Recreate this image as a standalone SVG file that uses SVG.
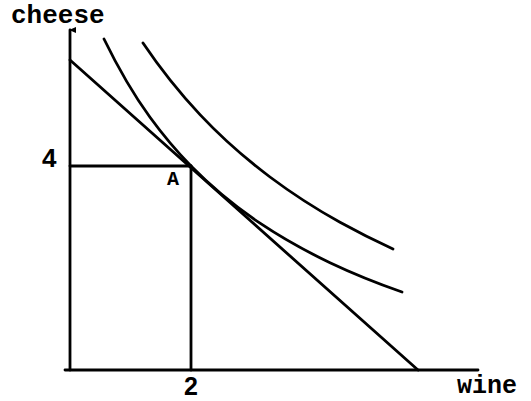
<svg xmlns="http://www.w3.org/2000/svg" width="531" height="401" viewBox="0 0 531 401">
<style>
.ln{fill:none;stroke:#000;stroke-width:2.8;stroke-linecap:round;stroke-linejoin:round}
.mono{font-family:"Liberation Mono","DejaVu Sans Mono",monospace;font-weight:bold;fill:#000}
.sans{font-family:"Liberation Sans",Arial,sans-serif;font-weight:bold;fill:#000}
</style>
<defs>
<marker id="arr" markerWidth="8" markerHeight="8" refX="4" refY="1" orient="auto-start-reverse" markerUnits="userSpaceOnUse" viewBox="0 0 8 8">
<path d="M1,7 L4,0 L7,7 Z" fill="#000"/>
</marker>
</defs>
<rect width="531" height="401" fill="#fff"/>
<g id="axes">
<line class="ln" x1="70" y1="370" x2="70" y2="30" marker-end="url(#arr)"/>
<line class="ln" x1="65" y1="370" x2="478" y2="370"/>
</g>
<g id="connectors">
<line id="budget" class="ln" x1="70" y1="60" x2="418" y2="370"/>
<path id="ic-inner" class="ln" d="M104,39 C119.3,70.4 134.7,96.2 150,117.3 C163.7,136.1 177.3,152 191,166 C214,189.5 237,207.7 260,223.2 C283.3,238.9 306.7,251.6 330,262.7 C354,274.1 378,283.6 402,292"/>
<path id="ic-outer" class="ln" d="M143,43 C162,71.2 181,94.4 200,114.6 C223.3,139.4 246.7,159.5 270,177 C293.3,194.5 316.7,209.3 340,222.3 C357.7,232.1 375.3,240.9 393,249"/>
<line class="ln" x1="70" y1="166" x2="191" y2="166"/>
<line class="ln" x1="191" y1="166" x2="191" y2="370"/>
</g>
<g id="labels">
<text class="mono" x="457" y="393" font-size="25">wine</text>
<text class="mono" x="11" y="23" font-size="26">cheese</text>
<text class="sans" x="42" y="167" font-size="26">4</text>
<text class="sans" x="184" y="395" font-size="25">2</text>
<text class="mono" x="167" y="185" font-size="20">A</text>
</g>
</svg>
